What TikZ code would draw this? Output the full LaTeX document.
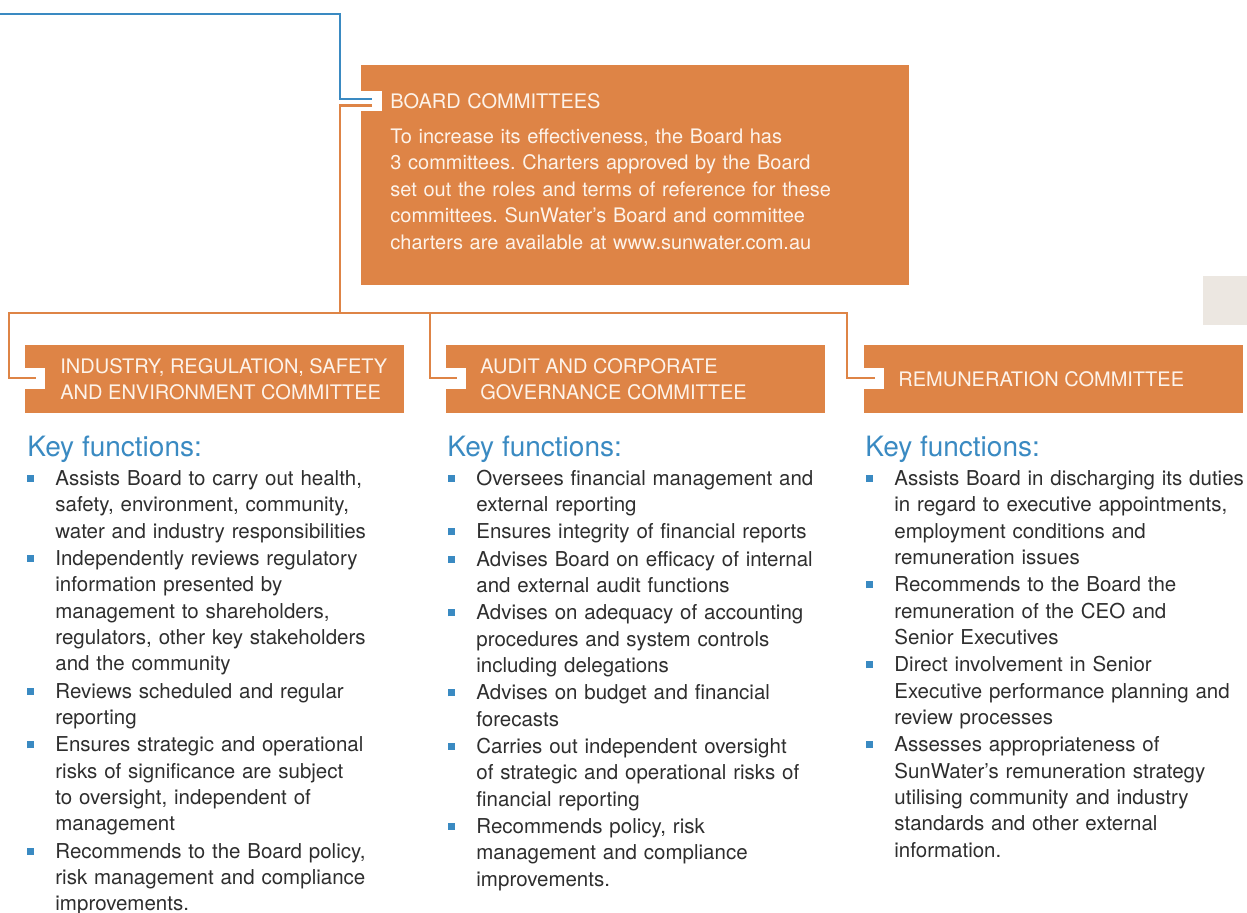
\documentclass[tikz,border=0pt]{standalone}
\usepackage{fontspec}
\setmainfont{TeX Gyre Heros}
\usepackage{xcolor}
\usepackage{tikz}
\usetikzlibrary{positioning,calc}
\frenchspacing

\definecolor{sworange}{HTML}{DE8446}
\definecolor{swblue}{HTML}{3A8AC2}
\definecolor{swtext}{HTML}{2E2E2E}
\definecolor{swcream}{HTML}{FDF3EA}
\definecolor{swgrey}{HTML}{ECE7E1}

\begin{document}
\begin{tikzpicture}[x=0.5pt,y=-0.5pt,
boardbox/.style={fill=sworange,text=swcream,anchor=north west,text width=245pt,inner xsep=14.5pt,inner ysep=14pt,align=left,font=\fontsize{10pt}{13.25pt}\selectfont},
commbox/.style={fill=sworange,anchor=north west,minimum width=189.5pt,minimum height=34pt,inner sep=0pt},
commtitle/.style={text=swcream,anchor=west,align=left,inner sep=0pt,font=\fontsize{10pt}{13.25pt}\selectfont},
keyhead/.style={text=swblue,anchor=base west,inner sep=0pt,font=\fontsize{14pt}{17pt}\selectfont},
keyitem/.style={text=swtext,anchor=north west,text width=200pt,align=left,inner sep=0pt,font=\fontsize{10.25pt}{13.2pt}\selectfont,
  execute at begin node={\strut\llap{\textcolor{swblue}{\rule[1.75pt]{3.5pt}{3.5pt}}\hspace{10.5pt}}},
  execute at end node=\strut},
link/.style={draw=sworange,line width=1.25pt},
feedlink/.style={draw=swblue,line width=1.25pt}]
\useasboundingbox (0,0) rectangle (1247,913);
\fill[swgrey] (1203,276) rectangle (1247,325);

\node[boardbox] (board) at (361,65) {{\fontsize{10pt}{12pt}\selectfont BOARD COMMITTEES}\\[4.25pt]
To increase its effectiveness, the Board has\\
3 committees. Charters approved by the Board\\
set out the roles and terms of reference for these\\
committees. SunWater’s Board and committee\\
charters are available at www.sunwater.com.au\strut};
\fill[white] ($(board.north west)+(0,26)$) rectangle ++(21,20);

\node[commbox] (isec) at (25,345) {};
\node[commbox] (acgc) at (446,345) {};
\node[commbox] (remc) at (864,345) {};
\foreach \c in {isec,acgc,remc}
  \fill[white] ($(\c.north west)+(0,23)$) rectangle ++(20,21);
\node[commtitle,right=17.5pt of isec.west] (isectitle) {INDUSTRY, REGULATION, SAFETY\\AND ENVIRONMENT COMMITTEE};
\node[commtitle,right=17pt of acgc.west] (acgctitle) {AUDIT AND CORPORATE\\GOVERNANCE COMMITTEE};
\node[commtitle,right=17pt of remc.west] (remctitle) {REMUNERATION COMMITTEE};

\coordinate (feed) at (0,14);
\coordinate (split) at (340,313);
\draw[feedlink] (feed) -| ($(board.north west)+(-21,34)$) -- ($(board.north west)+(11,34)$);
\draw[link] ($(board.north west)+(11,40.5)$) -| (split);
\draw[link] (split) -| ($(isec.north west)+(-16,33)$) -- ($(isec.north west)+(11,33)$);
\draw[link] (split) -| ($(acgc.north west)+(-16,33)$) -- ($(acgc.north west)+(11,33)$);
\draw[link] (split) -| ($(remc.north west)+(-17,33)$) -- ($(remc.north west)+(11,33)$);

\node[keyhead] (isekey) at (27,457) {Key functions:};
\node[keyhead] (acgkey) at (447,457) {Key functions:};
\node[keyhead] (remkey) at (865,457) {Key functions:};

\node[keyitem] (isf1) at (55,466.5) {Assists Board to carry out health,\\safety, environment, community,\\water and industry responsibilities};
\node[below=0pt of isf1.south west,keyitem] (isf2) {Independently reviews regulatory\\information presented by\\management to shareholders,\\regulators, other key stakeholders\\and the community};
\node[below=0pt of isf2.south west,keyitem] (isf3) {Reviews scheduled and regular\\reporting};
\node[below=0pt of isf3.south west,keyitem] (isf4) {Ensures strategic and operational\\risks of significance are subject\\to oversight, independent of\\management};
\node[below=0pt of isf4.south west,keyitem] (isf5) {Recommends to the Board policy,\\risk management and compliance\\improvements.};

\node[keyitem] (acg1) at (476,466.5) {Oversees financial management and\\external reporting};
\node[below=0pt of acg1.south west,keyitem] (acg2) {Ensures integrity of financial reports};
\node[below=0pt of acg2.south west,keyitem] (acg3) {Advises Board on efficacy of internal\\and external audit functions};
\node[below=0pt of acg3.south west,keyitem] (acg4) {Advises on adequacy of accounting\\procedures and system controls\\including delegations};
\node[below=0pt of acg4.south west,keyitem] (acg5) {Advises on budget and financial\\forecasts};
\node[below=0pt of acg5.south west,keyitem] (acg6) {Carries out independent oversight\\of strategic and operational risks of\\financial reporting};
\node[below=0pt of acg6.south west,keyitem] (acg7) {Recommends policy, risk\\management and compliance\\improvements.};

\node[keyitem] (rem1) at (894,466.5) {Assists Board in discharging its duties\\in regard to executive appointments,\\employment conditions and\\remuneration issues};
\node[below=0pt of rem1.south west,keyitem] (rem2) {Recommends to the Board the\\remuneration of the CEO and\\Senior Executives};
\node[below=0pt of rem2.south west,keyitem] (rem3) {Direct involvement in Senior\\Executive performance planning and\\review processes};
\node[below=0pt of rem3.south west,keyitem] (rem4) {Assesses appropriateness of\\SunWater’s remuneration strategy\\utilising community and industry\\standards and other external\\information.};
\end{tikzpicture}
\end{document}
